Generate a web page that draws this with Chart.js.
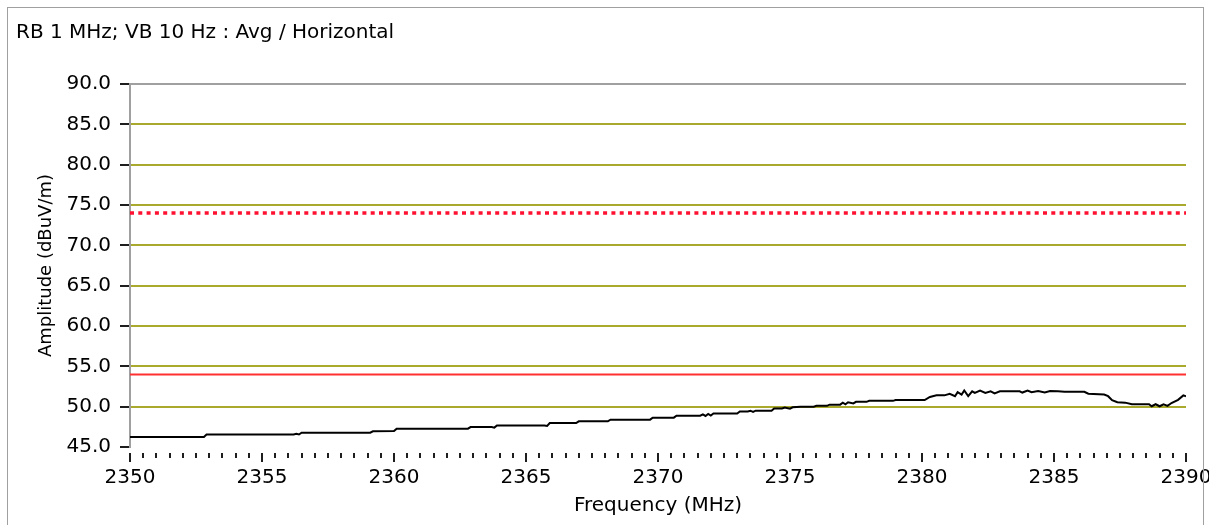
<!DOCTYPE html>
<html>
<head>
<meta charset="utf-8">
<script src="https://cdn.jsdelivr.net/npm/chart.js@4.4.1/dist/chart.umd.min.js"></script>
<style>
  html, body { margin: 0; padding: 0; background: #fff; overflow: hidden; }
  #wrap { position: relative; width: 1209px; height: 525px; }
  #frame { position: absolute; left: 7px; top: 7px; width: 1195px; height: 600px;
           border: 1px solid #a0a0a0; pointer-events: none; }
  canvas { position: absolute; left: 0; top: 0; }
</style>
</head>
<body>
<div id="wrap">
  <canvas id="c" width="1209" height="525"></canvas>
  <div id="frame"></div>
</div>
<script>
// Sweep settings and axis text
const titleText = 'RB 1 MHz; VB 10 Hz : Avg / Horizontal';
const xTitle = 'Frequency (MHz)';
const yTitle = 'Amplitude (dBuV/m)';

// Limit lines (dBuV/m)
const peakLimit = 74.0;
const avgLimit = 54.0;

// Measured average trace: frequency (MHz) and amplitude (dBuV/m)
const freq = [
  2350.0, 2352.8, 2352.9, 2356.2, 2356.3, 2356.4, 2356.5, 2359.1, 2359.2, 2360.0,
  2360.1, 2362.8, 2362.9, 2363.7, 2363.8, 2363.9, 2365.7, 2365.8, 2365.9, 2366.9,
  2367.0, 2368.1, 2368.2, 2369.7, 2369.8, 2370.6, 2370.7, 2371.6, 2371.7, 2371.8,
  2371.9, 2372.0, 2372.1, 2373.0, 2373.1, 2373.4, 2373.5, 2373.6, 2373.7, 2374.3,
  2374.4, 2374.7, 2374.8, 2375.0, 2375.1, 2375.4, 2375.9, 2376.0, 2376.4, 2376.5,
  2376.9, 2377.0, 2377.1, 2377.2, 2377.4, 2377.5, 2377.9, 2378.0, 2378.9, 2379.0,
  2380.1, 2380.3, 2380.55, 2380.85, 2381.05, 2381.25, 2381.35, 2381.5, 2381.6, 2381.75,
  2381.9, 2382.0, 2382.2, 2382.4, 2382.6, 2382.75, 2382.95, 2383.7, 2383.8, 2384.0,
  2384.15, 2384.4, 2384.65, 2384.85, 2385.15, 2385.4, 2386.15, 2386.3, 2386.9, 2387.05,
  2387.2, 2387.4, 2387.7, 2387.95, 2388.6, 2388.7, 2388.85, 2389.0, 2389.15, 2389.3,
  2389.45, 2389.7, 2389.9, 2390.0
];
const amp = [
  46.25, 46.25, 46.55, 46.55, 46.65, 46.55, 46.77, 46.77, 46.95, 46.97,
  47.27, 47.27, 47.47, 47.47, 47.40, 47.67, 47.67, 47.60, 47.96, 47.96,
  48.18, 48.18, 48.39, 48.39, 48.64, 48.64, 48.88, 48.88, 49.05, 48.85,
  49.10, 48.90, 49.15, 49.15, 49.40, 49.40, 49.50, 49.35, 49.50, 49.50,
  49.78, 49.78, 49.90, 49.75, 49.92, 50.00, 50.00, 50.10, 50.10, 50.25,
  50.25, 50.50, 50.30, 50.55, 50.40, 50.60, 50.60, 50.72, 50.72, 50.82,
  50.82, 51.20, 51.40, 51.40, 51.60, 51.30, 51.80, 51.50, 52.00, 51.30,
  51.90, 51.70, 52.00, 51.70, 51.90, 51.65, 51.90, 51.90, 51.75, 52.00,
  51.80, 51.95, 51.75, 51.95, 51.90, 51.85, 51.85, 51.60, 51.50, 51.30,
  50.80, 50.55, 50.50, 50.30, 50.30, 50.05, 50.30, 50.05, 50.30, 50.10,
  50.45, 50.85, 51.40, 51.30
];

// Axis ranges and steps
const xMin = 2350, xMax = 2390, xStep = 0.5, xLabelStep = 5;
const yMin = 45, yMax = 90, yStep = 2.5, yLabelStep = 5;

const FONT = 'DejaVu Sans';
const OLIVE = '#a9a92e';

const isMultiple = (v, step) => Math.abs(v / step - Math.round(v / step)) < 1e-6;

// Short ticks every 0.5 MHz, longer ones every 5 MHz, hanging below the plot
const freqTicks = {
  id: 'freqTicks',
  afterDraw(chart) {
    const xs = chart.scales.x;
    const c = chart.ctx;
    c.save();
    c.strokeStyle = '#1e1e1e';
    c.lineWidth = 2;
    xs.ticks.forEach(t => {
      const px = Math.round(xs.getPixelForValue(t.value));
      const major = isMultiple(t.value, xLabelStep);
      c.beginPath();
      c.moveTo(px, xs.top + 6);
      c.lineTo(px, xs.top + (major ? 15 : 11));
      c.stroke();
    });
    c.restore();
  }
};

new Chart(document.getElementById('c'), {
  type: 'line',
  data: {
    datasets: [
      {
        label: 'Average',
        data: freq.map((f, i) => ({ x: f, y: amp[i] })),
        borderColor: '#000000',
        borderWidth: 2,
        pointRadius: 0,
        tension: 0
      },
      {
        label: 'Peak limit',
        data: [{ x: xMin, y: peakLimit }, { x: xMax, y: peakLimit }],
        borderColor: '#ff1030',
        borderWidth: 3.5,
        borderDash: [4, 4.3],
        pointRadius: 0
      },
      {
        label: 'Average limit',
        data: [{ x: xMin, y: avgLimit }, { x: xMax, y: avgLimit }],
        borderColor: '#ff3030',
        borderWidth: 2,
        pointRadius: 0
      }
    ]
  },
  options: {
    responsive: false,
    animation: false,
    layout: { padding: { left: 16, right: 23, top: 0, bottom: 0 } },
    plugins: {
      legend: { display: false },
      tooltip: { enabled: false },
      title: {
        display: true,
        text: titleText,
        align: 'start',
        color: '#000',
        font: { family: FONT, size: 20, weight: 'normal' },
        padding: { top: 21, bottom: 39 }
      }
    },
    scales: {
      x: {
        type: 'linear',
        min: xMin,
        max: xMax,
        border: { display: false },
        grid: { display: false, drawTicks: false },
        ticks: {
          stepSize: xStep,
          autoSkip: false,
          maxRotation: 0,
          padding: 19,
          color: '#000',
          font: { family: FONT, size: 20 },
          callback: v => isMultiple(v, xLabelStep) ? String(v) : ''
        },
        title: {
          display: true,
          text: xTitle,
          color: '#000',
          font: { family: FONT, size: 20 },
          padding: { top: 0, bottom: 7 }
        },
        afterFit: s => {
          s.height = 78;
          s.paddingLeft = 0;
          s.paddingRight = 0;
        }
      },
      y: {
        min: yMin,
        max: yMax,
        border: { display: true, color: '#a0a0a0', width: 2 },
        grid: {
          color: ctx => {
            const v = ctx.tick.value;
            if (v === yMax) return '#a0a0a0';
            if (v === yMin) return 'rgba(0,0,0,0)';
            return isMultiple(v, yLabelStep) ? OLIVE : '#ededed';
          },
          lineWidth: 2,
          tickLength: 10,
          tickWidth: 2,
          tickColor: ctx => isMultiple(ctx.tick.value, yLabelStep) ? '#1e1e1e' : 'rgba(0,0,0,0)'
        },
        ticks: {
          stepSize: yStep,
          padding: 9,
          color: '#000',
          font: { family: FONT, size: 20 },
          callback: v => isMultiple(v, yLabelStep) ? v.toFixed(1) : ''
        },
        title: {
          display: true,
          text: yTitle,
          color: '#000',
          font: { family: FONT, size: 18 },
          padding: { top: 20 }
        },
        afterFit: s => { s.width = 114; }
      }
    }
  },
  plugins: [freqTicks]
});
</script>
</body>
</html>
